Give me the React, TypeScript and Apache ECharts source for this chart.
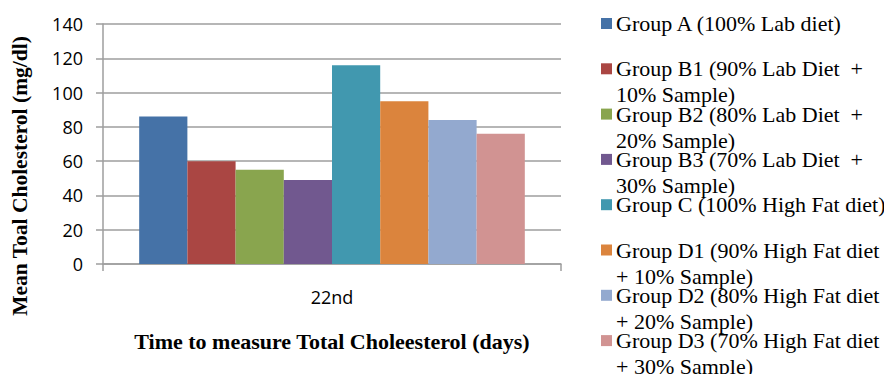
import React, { useEffect, useRef } from "react";
import * as echarts from "echarts";

const categories = ["22nd"];
const seriesNames = [
  "Group A (100% Lab diet)",
  "Group B1 (90% Lab Diet  + 10% Sample)",
  "Group B2 (80% Lab Diet  + 20% Sample)",
  "Group B3 (70% Lab Diet  + 30% Sample)",
  "Group C (100% High Fat diet)",
  "Group D1 (90% High Fat diet + 10% Sample)",
  "Group D2 (80% High Fat diet + 20% Sample)",
  "Group D3 (70% High Fat diet + 30% Sample)",
];
const legendLines = [
  ["Group A (100% Lab diet)"],
  ["Group B1 (90% Lab Diet  +", "10% Sample)"],
  ["Group B2 (80% Lab Diet  +", "20% Sample)"],
  ["Group B3 (70% Lab Diet  +", "30% Sample)"],
  ["Group C (100% High Fat diet)"],
  ["Group D1 (90% High Fat diet", "+ 10% Sample)"],
  ["Group D2 (80% High Fat diet", "+ 20% Sample)"],
  ["Group D3 (70% High Fat diet", "+ 30% Sample)"],
];
const seriesValues = [86, 60, 55, 49, 116, 95, 84, 76];
const colors = ["#4572A7", "#AA4643", "#89A54E", "#71588F", "#4198AF", "#DB843D", "#93A9CF", "#D19392"];
const yTicks = { min: 0, max: 140, interval: 20 };
const yTitle = "Mean Toal Cholesterol (mg/dl)";
const xTitle = "Time to measure Total Choleesterol (days)";

export default function App() {
  const ref = useRef<HTMLDivElement>(null);
  useEffect(() => {
    if (!ref.current) return;
    const chart = echarts.init(ref.current, null, { renderer: "svg" });
    const serif = "'Liberation Serif', 'Times New Roman', serif";
    const sans = "'Open Sans', 'Noto Sans', sans-serif";
    const gray = "#9e9e9e";

    const graphics: any[] = [];
    legendLines.forEach((lines, i) => {
      const cy = 23.5 + i * 45.3;
      graphics.push({
        type: "rect",
        shape: { x: 601, y: cy - 5.5, width: 11, height: 11 },
        style: { fill: colors[i] },
      });
      lines.forEach((line, j) => {
        graphics.push({
          type: "text",
          x: 616,
          y: cy + j * 26,
          style: {
            text: line,
            fill: "#000",
            font: `22px ${serif}`,
            verticalAlign: "middle",
            whiteSpace: "pre",
          },
        });
      });
    });
    graphics.push({
      type: "text",
      x: 20,
      y: 176,
      rotation: Math.PI / 2,
      style: {
        text: yTitle,
        fill: "#000",
        font: `bold 21.5px ${serif}`,
        align: "center",
        verticalAlign: "middle",
      },
    });

    chart.setOption({
      animation: false,
      grid: { left: 103, top: 24, width: 458, height: 240 },
      xAxis: {
        type: "category",
        data: categories,
        axisLine: { lineStyle: { color: gray, width: 1.5 } },
        axisTick: { show: true, length: 7, lineStyle: { color: gray, width: 1.5 } },
        axisLabel: { color: "#000", fontSize: 18, fontFamily: sans, margin: 24 },
        name: xTitle,
        nameLocation: "middle",
        nameGap: 66,
        nameTextStyle: { color: "#000", fontSize: 22, fontWeight: "bold", fontFamily: serif },
      },
      yAxis: {
        type: "value",
        min: yTicks.min,
        max: yTicks.max,
        interval: yTicks.interval,
        axisLine: { show: true, lineStyle: { color: gray, width: 1.5 } },
        axisTick: { show: true, length: 7, lineStyle: { color: gray, width: 1.5 } },
        splitLine: { show: true, lineStyle: { color: gray, width: 1.5 } },
        axisLabel: { color: "#000", fontSize: 18, fontFamily: sans, margin: 20 },
      },
      series: seriesValues.map((v, i) => ({
        type: "bar",
        name: seriesNames[i],
        data: [v],
        barGap: "0%",
        barCategoryGap: "15.8%",
        itemStyle: { color: colors[i] },
      })),
      graphic: graphics,
    });
    return () => chart.dispose();
  }, []);
  return <div ref={ref} style={{ position: "fixed", left: 0, top: 0, width: 884, height: 374, background: "#fff" }} />;
}
